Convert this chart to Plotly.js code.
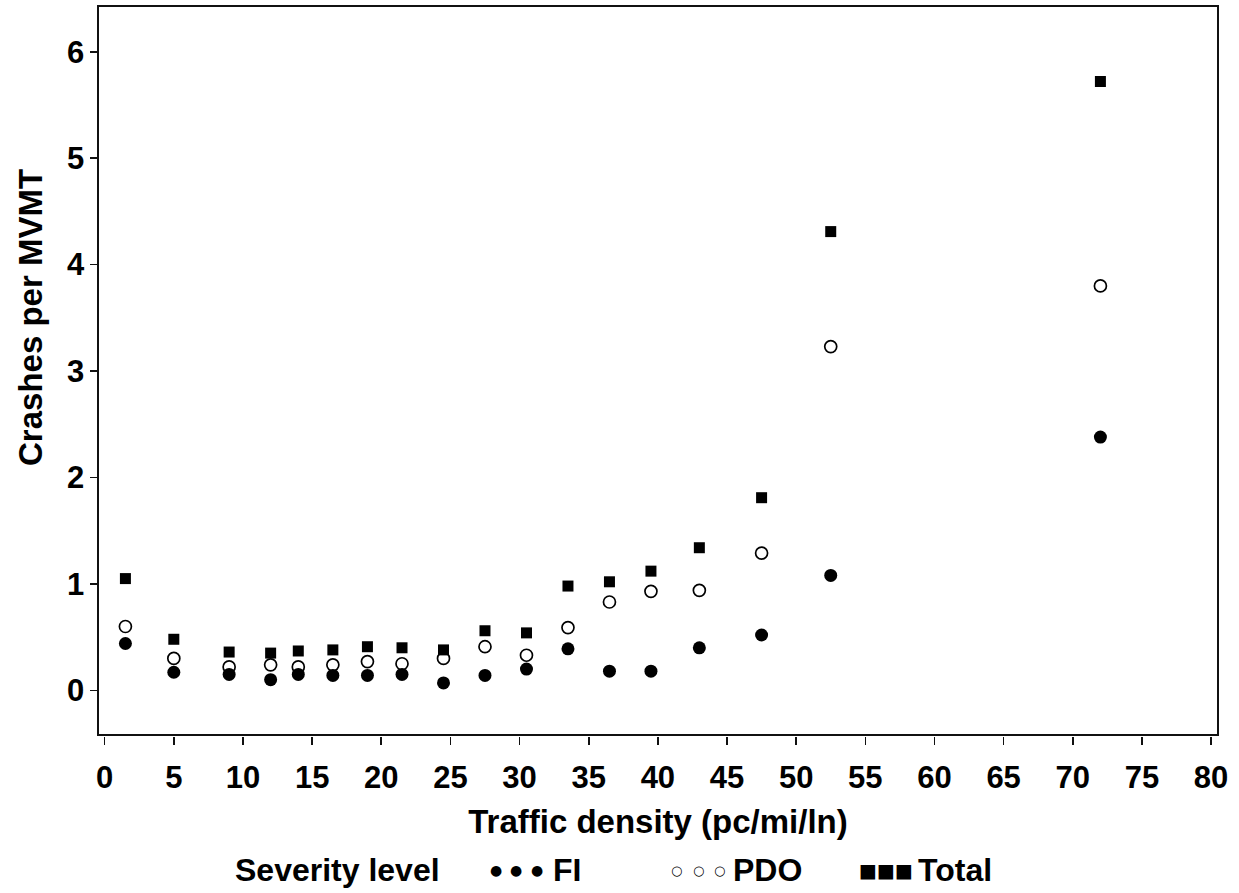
<!DOCTYPE html>
<html>
<head>
<meta charset="utf-8">
<script src="https://cdn.plot.ly/plotly-3.0.1.min.js"></script>
<style>
html,body{margin:0;padding:0;background:#fff;}
#chart{width:1239px;height:893px;}
</style>
</head>
<body>
<div id="chart"></div>
<script>
// ---- data ----
const density = [1.5, 5, 9, 12, 14, 16.5, 19, 21.5, 24.5, 27.5, 30.5, 33.5, 36.5, 39.5, 43, 47.5, 52.5, 72];
const fi      = [0.44, 0.17, 0.15, 0.10, 0.15, 0.14, 0.14, 0.15, 0.07, 0.14, 0.20, 0.39, 0.18, 0.18, 0.40, 0.52, 1.08, 2.38];
const pdo     = [0.60, 0.30, 0.22, 0.24, 0.22, 0.24, 0.27, 0.25, 0.30, 0.41, 0.33, 0.59, 0.83, 0.93, 0.94, 1.29, 3.23, 3.80];
const total   = [1.05, 0.48, 0.36, 0.35, 0.37, 0.38, 0.41, 0.40, 0.38, 0.56, 0.54, 0.98, 1.02, 1.12, 1.34, 1.81, 4.31, 5.72];
const seriesNames = ['FI', 'PDO', 'Total'];
const xTicks = [0,5,10,15,20,25,30,35,40,45,50,55,60,65,70,75,80];
const yTicks = [0,1,2,3,4,5,6];
const legendTitle = 'Severity level';
const xTitle = 'Traffic density (pc/mi/ln)';
const yTitle = 'Crashes per MVMT';

// ---- layout geometry (pixels) ----
const W = 1239, H = 893;
const L = 99, R = 1217, T = 7, B = 734;   // frame
const PB = 736;                           // paper bottom (tick gap)
const FONT = '"Liberation Sans", Arial, Helvetica, sans-serif';
const GLYPH = '"DejaVu Sans", sans-serif';

const px2x = p => (p - L) / (R - L);
const px2y = p => (PB - p) / (PB - T);

const traces = [
  {x: density, y: pdo, name: seriesNames[1], type: 'scatter', mode: 'markers',
   marker: {symbol: 'circle', size: 12, color: '#ffffff', line: {color: '#000', width: 1.7}},
   showlegend: false, cliponaxis: false},
  {x: density, y: total, name: seriesNames[2], type: 'scatter', mode: 'markers',
   marker: {symbol: 'square', size: 11, color: '#000'},
   showlegend: false, cliponaxis: false},
  {x: density, y: fi, name: seriesNames[0], type: 'scatter', mode: 'markers',
   marker: {symbol: 'circle', size: 13, color: '#000'},
   showlegend: false, cliponaxis: false}
];

// legend and y title built from annotations
const ann = [];
const legY = px2y(870);
ann.push({xref: 'paper', yref: 'paper', x: px2x(233), y: legY, xanchor: 'left', yanchor: 'middle',
  text: '<b>' + legendTitle + '</b>', showarrow: false, font: {family: FONT, size: 32, color: '#000'}});
const legItems = [
  {glyph: '●', size: 14, centers: [496, 516, 537], label: seriesNames[0], lx: 551},
  {glyph: '○', size: 13, centers: [677, 698, 719], label: seriesNames[1], lx: 731},
  {glyph: '■', size: 19, centers: [868, 886, 904], label: seriesNames[2], lx: 916}
];
legItems.forEach(it => {
  it.centers.forEach(c => ann.push({xref: 'paper', yref: 'paper', x: px2x(c), y: legY, xanchor: 'center', yanchor: 'middle',
    text: it.glyph, showarrow: false, borderpad: 0, font: {family: GLYPH, size: it.size, color: '#000'}}));
  ann.push({xref: 'paper', yref: 'paper', x: px2x(it.lx), y: legY, xanchor: 'left', yanchor: 'middle',
    text: '<b>' + it.label + '</b>', showarrow: false, font: {family: FONT, size: 32, color: '#000'}});
});
ann.push({xref: 'paper', yref: 'paper', x: px2x(30), y: px2y(318), xanchor: 'center', yanchor: 'middle',
  textangle: -90, text: '<b>' + yTitle + '</b>', showarrow: false, font: {family: FONT, size: 33, color: '#000'}});

const xr = [-0.41, 80.43];
const layout = {
  width: W, height: H,
  margin: {l: L, r: W - R, t: T, b: H - PB, pad: 0},
  paper_bgcolor: '#fff', plot_bgcolor: '#fff',
  showlegend: false,
  font: {family: FONT, color: '#000'},
  xaxis: {
    range: xr, showgrid: false, zeroline: false,
    showline: true, mirror: true, linecolor: '#111', linewidth: 1.6,
    ticks: '', showticklabels: false, anchor: 'y'
  },
  xaxis2: {
    range: xr, overlaying: 'x', anchor: 'free', position: 0, side: 'bottom',
    showgrid: false, zeroline: false, showline: false,
    tickmode: 'array', tickvals: xTicks, ticktext: xTicks.map(String),
    ticks: 'outside', ticklen: 8, tickwidth: 1.6, tickcolor: '#111',
    tickfont: {family: FONT, size: 31, color: '#000', weight: 'bold'},
    ticklabelstandoff: 6,
    title: {text: '<b>' + xTitle + '</b>', font: {family: FONT, size: 33, color: '#000'}, standoff: 15}
  },
  yaxis: {
    range: [-0.41, 6.42], domain: [px2y(B), 1],
    showgrid: false, zeroline: false,
    showline: true, mirror: true, linecolor: '#111', linewidth: 1.6,
    tickmode: 'array', tickvals: yTicks, ticktext: yTicks.map(String),
    ticks: 'outside', ticklen: 7, tickwidth: 1.6, tickcolor: '#111',
    tickfont: {family: FONT, size: 31, color: '#000', weight: 'bold'}
  },
  annotations: ann
};

// empty trace keeps the tick axis (xaxis2) in use
traces.push({x: [], y: [], xaxis: 'x2', yaxis: 'y', type: 'scatter', mode: 'markers', showlegend: false, hoverinfo: 'skip'});

Plotly.newPlot('chart', traces, layout, {displayModeBar: false, staticPlot: true});
</script>
</body>
</html>
